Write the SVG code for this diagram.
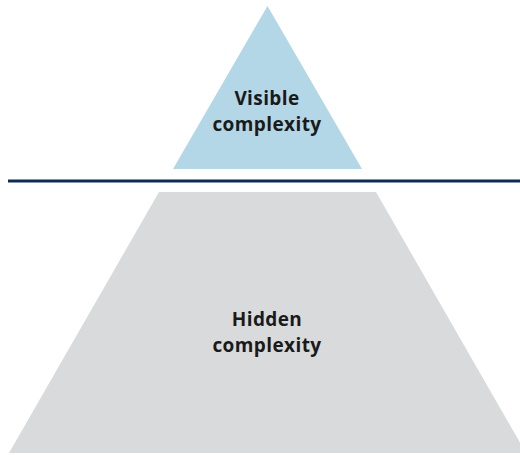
<svg xmlns="http://www.w3.org/2000/svg" width="520" height="455" viewBox="0 0 520 455">
  <style>
    .label { font-family: "Open Sans", "Liberation Sans", sans-serif; font-weight: bold; font-size: 19px; letter-spacing: 0.4px; fill: #1a1a1a; text-anchor: middle; }
  </style>
  <rect width="520" height="455" fill="#ffffff"/>
  <!-- tip of the iceberg -->
  <g id="visible">
    <polygon points="267.5,6 362,169 173,169" fill="#b3d7e6"/>
    <text class="label" y="105"><tspan x="267">Visible</tspan><tspan x="267" dy="26">complexity</tspan></text>
  </g>
  <!-- waterline -->
  <g id="connectors">
    <line x1="8" y1="181" x2="520" y2="181" stroke="#0d2b55" stroke-width="3"/>
  </g>
  <!-- submerged part -->
  <g id="hidden">
    <polygon points="159,192 376,192 526,453 9,453" fill="#d9dadc"/>
    <text class="label" y="325.5"><tspan x="267">Hidden</tspan><tspan x="267" dy="26">complexity</tspan></text>
  </g>
</svg>
